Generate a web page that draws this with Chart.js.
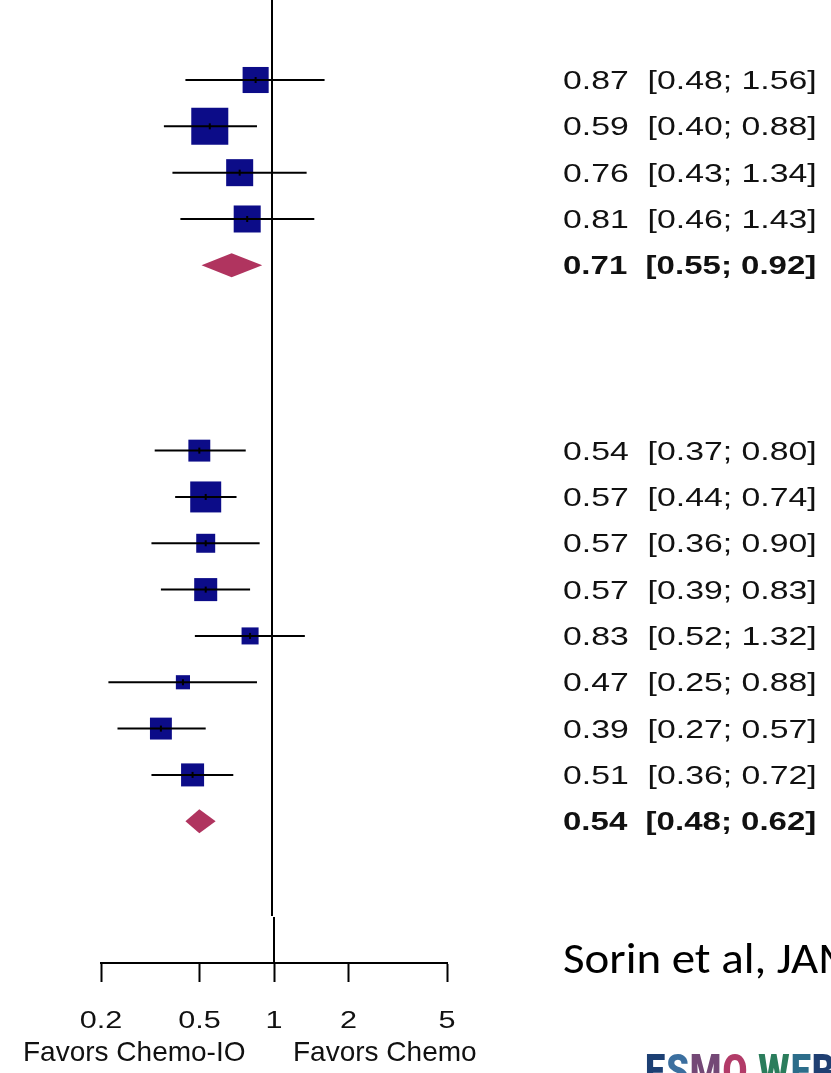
<!DOCTYPE html>
<html><head><meta charset="utf-8">
<script src="https://cdn.jsdelivr.net/npm/chart.js@4.4.1/dist/chart.umd.min.js"></script>
<style>html,body{margin:0;padding:0;background:#fff;}canvas{display:block;}</style>
</head><body>
<canvas id="c" width="831" height="1073"></canvas>
<script>
// ---- data ----
const group1Estimates = [0.87, 0.59, 0.76, 0.81];
const group1Lower     = [0.48, 0.40, 0.43, 0.46];
const group1Upper     = [1.56, 0.88, 1.34, 1.43];
const group1Weights   = [6.8, 13.7, 7.3, 7.3];
const group1Summary   = [0.71, 0.55, 0.92];

const group2Estimates = [0.54, 0.57, 0.57, 0.57, 0.83, 0.47, 0.39, 0.51];
const group2Lower     = [0.37, 0.44, 0.36, 0.39, 0.52, 0.25, 0.27, 0.36];
const group2Upper     = [0.80, 0.74, 0.90, 0.83, 1.32, 0.88, 0.57, 0.72];
const group2Weights   = [4.8, 9.6, 3.6, 5.3, 2.9, 2.0, 4.8, 5.3];
const group2Summary   = [0.54, 0.48, 0.62];

const tickValues = [0.2, 0.5, 1, 2, 5];
const tickLabels = ['0.2', '0.5', '1', '2', '5'];
const leftLabel  = 'Favors Chemo-IO';
const rightLabel = 'Favors Chemo';
const citation   = 'Sorin et al, JAMA Oncol';
const logoText   = 'ESMO WEBINAR';

// ---- build rows (row index = order in the plot) ----
const studies = [];
const summaries = [];
let row = 1;
group1Estimates.forEach((e, i) => studies.push({row: row++, est: e, lo: group1Lower[i], hi: group1Upper[i], w: group1Weights[i]}));
summaries.push({row: row++, est: group1Summary[0], lo: group1Summary[1], hi: group1Summary[2]});
row += 3;
group2Estimates.forEach((e, i) => studies.push({row: row++, est: e, lo: group2Lower[i], hi: group2Upper[i], w: group2Weights[i]}));
summaries.push({row: row++, est: group2Summary[0], lo: group2Summary[1], hi: group2Summary[2]});

const fmt = v => v.toFixed(2);
const SQUARE = '#0c0c88';
const DIAMOND = '#b0345f';
const HELV = '"Liberation Sans", Arial, Helvetica, sans-serif';

function drawText(ctx, text, x, y, font, color, sx, align) {
  ctx.save();
  ctx.font = font;
  ctx.fillStyle = color;
  ctx.textBaseline = 'alphabetic';
  ctx.textAlign = 'left';
  const w = ctx.measureText(text).width * sx;
  const left = align === 'center' ? x - w / 2 : x;
  ctx.translate(left, y);
  ctx.scale(sx, 1);
  ctx.fillText(text, 0, 0);
  ctx.restore();
}

const forestPlugin = {
  id: 'forest',
  beforeDatasetsDraw(chart) {
    const {ctx, chartArea, scales} = chart;
    const breakY = chartArea.bottom - 47;
    ctx.save();
    ctx.strokeStyle = '#000';
    ctx.lineWidth = 2;
    ctx.beginPath();
    const xa = Math.round(scales.x.getPixelForValue(1));
    ctx.moveTo(xa, chartArea.top);
    ctx.lineTo(xa, breakY);
    ctx.stroke();
    ctx.beginPath();
    const xb = Math.round(scales.x2.getPixelForValue(1));
    ctx.moveTo(xb, breakY + 1);
    ctx.lineTo(xb, chartArea.bottom);
    ctx.stroke();
    ctx.restore();
  },
  afterDatasetsDraw(chart) {
    const {ctx, scales} = chart;
    const x = scales.x, y = scales.y, x2 = scales.x2;
    // summary diamonds
    ctx.save();
    ctx.fillStyle = DIAMOND;
    summaries.forEach(s => {
      const py = y.getPixelForValue(s.row);
      ctx.beginPath();
      ctx.moveTo(x.getPixelForValue(s.lo), py);
      ctx.lineTo(x.getPixelForValue(s.est), py - 12);
      ctx.lineTo(x.getPixelForValue(s.hi), py);
      ctx.lineTo(x.getPixelForValue(s.est), py + 12);
      ctx.closePath();
      ctx.fill();
    });
    ctx.restore();
    // right-hand text column
    const textX = 563;
    studies.forEach(s => {
      drawText(ctx, `${fmt(s.est)}  [${fmt(s.lo)}; ${fmt(s.hi)}]`, textX, y.getPixelForValue(s.row) + 9,
        `26px ${HELV}`, '#111', 1.3, 'left');
    });
    summaries.forEach(s => {
      drawText(ctx, `${fmt(s.est)}  [${fmt(s.lo)}; ${fmt(s.hi)}]`, textX, y.getPixelForValue(s.row) + 9,
        `bold 26px ${HELV}`, '#111', 1.27, 'left');
    });
    // axis tick labels
    tickValues.forEach((v, i) => {
      drawText(ctx, tickLabels[i], x2.getPixelForValue(v), 1028, `23px ${HELV}`, '#111', 1.33, 'center');
    });
    drawText(ctx, leftLabel, 23, 1061, `28px ${HELV}`, '#111', 1.0, 'left');
    drawText(ctx, rightLabel, 293, 1061, `28px ${HELV}`, '#111', 1.0, 'left');
    // citation
    drawText(ctx, citation, 563, 973, '44px Carlito, Calibri, Lato, sans-serif', '#000', 1.067, 'left');
    // logo (cut off by the bottom edge)
    const logoColors = ['#1c3f73', '#3b6f9f', '#744876', '#b23b68', '#fff', '#2b7d5c', '#2c6d8a', '#1f3f72', '#1f3f72', '#1f3f72', '#1f3f72', '#1f3f72'];
    ctx.save();
    ctx.font = '900 44px Roboto, "DejaVu Sans", sans-serif';
    ctx.textBaseline = 'alphabetic';
    let lx = 645;
    const sx = 0.82;
    [...logoText].forEach((ch, i) => {
      ctx.save();
      ctx.translate(lx, 1086);
      ctx.scale(sx, 1);
      ctx.fillStyle = logoColors[i % logoColors.length];
      ctx.fillText(ch, 0, 0);
      ctx.restore();
      lx += ctx.measureText(ch).width * sx + 1;
    });
    ctx.restore();
  }
};

// ---- datasets ----
const datasets = [];
studies.forEach(s => {
  datasets.push({
    type: 'scatter', showLine: true, data: [{x: s.lo, y: s.row}, {x: s.hi, y: s.row}],
    borderColor: '#000', borderWidth: 2, pointRadius: 0, order: 0
  });
});
datasets.push({
  type: 'scatter', data: studies.map(s => ({x: s.est, y: s.row})),
  pointStyle: 'line', rotation: 90, pointRadius: 3, borderColor: '#000', borderWidth: 2, order: 1
});
datasets.push({
  type: 'scatter', data: studies.map(s => ({x: s.est, y: s.row})),
  pointStyle: 'rect',
  pointRadius: studies.map(s => 10 * Math.sqrt(s.w) / Math.SQRT2),
  backgroundColor: SQUARE, borderColor: SQUARE, borderWidth: 0, order: 2
});

new Chart(document.getElementById('c'), {
  type: 'scatter',
  data: {datasets},
  options: {
    responsive: false,
    animation: false,
    devicePixelRatio: 1,
    events: [],
    layout: {autoPadding: false, padding: {left: 101, right: 384, top: 0, bottom: 91}},
    plugins: {legend: {display: false}, tooltip: {enabled: false}},
    scales: {
      x: {type: 'logarithmic', min: 0.2348, max: 4.40, display: false},
      x2: {
        type: 'logarithmic', position: 'bottom', min: 0.2, max: 5,
        afterBuildTicks: s => { s.ticks = tickValues.map(v => ({value: v})); },
        grid: {drawOnChartArea: false, tickLength: 19, tickWidth: 2, color: '#000'},
        border: {display: true, width: 2, color: '#000'},
        ticks: {display: false}
      },
      y: {type: 'linear', min: -0.727, max: 20.06, reverse: true, display: false}
    }
  },
  plugins: [forestPlugin]
});
</script>
</body></html>
